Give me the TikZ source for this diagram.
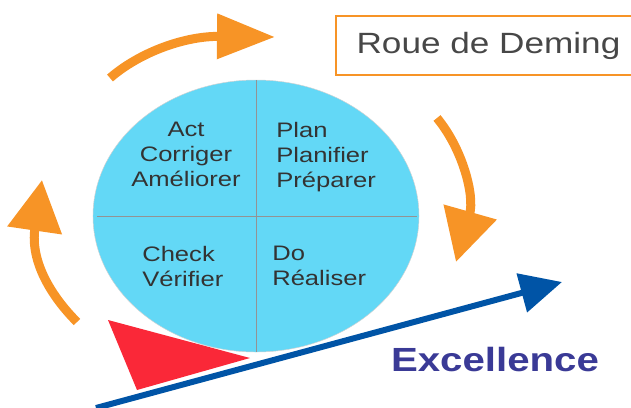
\documentclass[tikz,border=0pt]{standalone}
\usepackage{fontspec}
\setmainfont{Liberation Sans}
\usetikzlibrary{arrows.meta,shapes.geometric}
\definecolor{wheelblue}{RGB}{99,216,246}
\definecolor{pdcaorange}{RGB}{247,148,38}
\definecolor{wedgered}{RGB}{250,40,56}
\definecolor{trendblue}{RGB}{0,84,166}
\definecolor{excelblue}{RGB}{58,58,150}
\definecolor{textgray}{RGB}{51,51,51}
\tikzset{quad/.style={font=\fontsize{17.9}{21.3}\selectfont,inner sep=0pt,xscale=1.22,text=textgray}}
\tikzset{turn/.style={pdcaorange,line width=0.27cm}}
\tikzset{split/.style={draw=gray!85,line width=0.8pt}}

\begin{document}
\begin{tikzpicture}[x=0.03cm,y=0.03cm]
    \clip (0,0) rectangle (631,-407);
    % the wheel and its four quarters
    \node[ellipse,fill=wheelblue,draw=gray!35,inner sep=0pt,
          minimum width=9.78cm,minimum height=8.16cm] (wheel) at (256,-216) {};
    \draw[split] (wheel.north) -- (wheel.south);
    \draw[split] ([xshift=4]wheel.west) -- ([xshift=-2]wheel.east);
    \node[quad,align=center,anchor=north] (act) at (186,-122) {Act\\Corriger\\Améliorer};
    \node[quad,align=left,anchor=north west] (plan) at (276,-122) {Plan\\Planifier\\Préparer};
    \node[quad,align=left,anchor=north west] (check) at (142,-246) {Check\\Vérifier};
    \node[quad,align=left,anchor=north west] (do) at (272,-246) {Do\\Réaliser};
    % turning arrows
    \coordinate (t1) at (110,-78);
    \coordinate (t2) at (275,-37);
    \coordinate (r1) at (437,-118);
    \coordinate (r2) at (456,-262);
    \coordinate (l1) at (77,-322);
    \coordinate (l2) at (42,-180);
    \draw[turn,-{Triangle[length=1.74cm,width=1.3cm]}] (t1) .. controls (140,-52) and (185,-36) .. (t2);
    \draw[turn,-{Triangle[length=1.56cm,width=1.59cm]}] (r1) .. controls (462,-148) and (475,-195) .. (r2);
    \draw[turn,-{Triangle[length=1.53cm,width=1.59cm]}] (l1) .. controls (52,-297) and (30,-262) .. (l2);
    % wedge and slope
    \coordinate (w1) at (108,-320);
    \coordinate (w2) at (137,-390);
    \coordinate (w3) at (250,-358);
    \fill[wedgered] (w1) -- (w2) -- (w3) -- cycle;
    \coordinate (s1) at (96,-408);
    \coordinate (s2) at (562,-282);
    \draw[trendblue,line width=0.18cm,-{Triangle[length=1.25cm,width=1.17cm]}] (s1) -- (s2);
    \node[font=\fontsize{28.6}{30}\selectfont\bfseries,text=excelblue,xscale=1.2] (excel) at (495,-360) {Excellence};
    % title box
    \node[draw=pdcaorange,line width=1.6pt,minimum width=7.63cm,minimum height=1.77cm,
          font=\fontsize{25}{28}\selectfont,text=textgray!90,xscale=1.2] (title) at (488.5,-45.5) {Roue de Deming};
\end{tikzpicture}
\end{document}
